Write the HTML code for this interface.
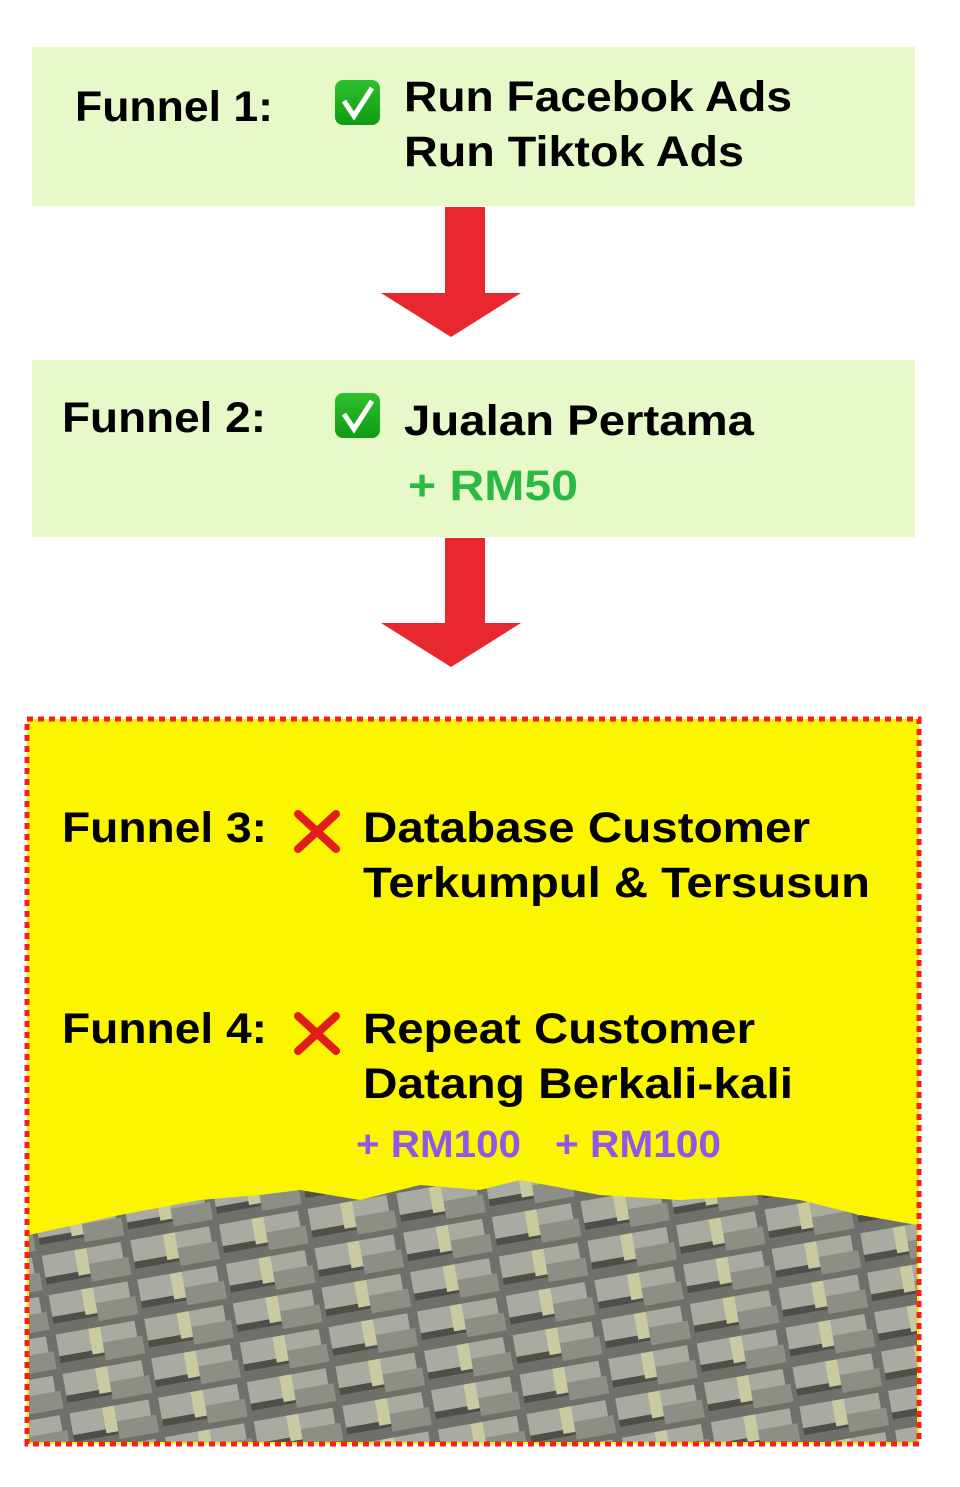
<!DOCTYPE html>
<html><head><meta charset="utf-8"><style>
html,body{margin:0;padding:0;background:#fff;}
svg{display:block;}
text{font-family:"Liberation Sans",sans-serif;font-weight:bold;}
</style></head><body>
<svg width="960" height="1487" viewBox="0 0 960 1487" xmlns="http://www.w3.org/2000/svg">
<defs>
<linearGradient id="g" x1="0" y1="0" x2="0" y2="1"><stop offset="0" stop-color="#2fc02f"/><stop offset="1" stop-color="#119a11"/></linearGradient>
<pattern id="cash" width="90" height="40" patternUnits="userSpaceOnUse" patternTransform="rotate(-10)">
<rect width="90" height="40" fill="#6f706a"/>
<rect x="3" y="4" width="80" height="26" fill="#a9aba2"/>
<rect x="3" y="26" width="80" height="7" fill="#4e4f49"/>
<rect x="36" y="4" width="12" height="26" fill="#c9caa0"/>
<rect x="48" y="20" width="40" height="18" fill="#8d8f87"/>
</pattern>
</defs>
<rect x="32" y="47" width="883" height="159" fill="#e8f9c9"/>
<text x="75" y="121" font-size="43" fill="#000" textLength="198" lengthAdjust="spacingAndGlyphs">Funnel 1:</text>
<rect x="335" y="80" width="45" height="45" rx="8" fill="url(#g)"/>
<path d="M344 101 L354 116 L372 88" stroke="#fff" stroke-width="5" fill="none"/>
<text x="404" y="111" font-size="43" fill="#000" textLength="388" lengthAdjust="spacingAndGlyphs">Run Facebok Ads</text>
<text x="404" y="166" font-size="43" fill="#000" textLength="340" lengthAdjust="spacingAndGlyphs">Run Tiktok Ads</text>
<polygon points="445,207 485,207 485,293 521,293 451,337 381,293 445,293" fill="#e8282e"/>
<rect x="32" y="360" width="883" height="177" fill="#e8f9c9"/>
<text x="62" y="432" font-size="43" fill="#000" textLength="204" lengthAdjust="spacingAndGlyphs">Funnel 2:</text>
<rect x="335" y="393" width="45" height="45" rx="8" fill="url(#g)"/>
<path d="M344 414 L354 429 L372 401" stroke="#fff" stroke-width="5" fill="none"/>
<text x="404" y="435" font-size="43" fill="#000" textLength="350" lengthAdjust="spacingAndGlyphs">Jualan Pertama</text>
<text x="408" y="500" font-size="43" fill="#2cb845" textLength="170" lengthAdjust="spacingAndGlyphs">+ RM50</text>
<polygon points="445,538 485,538 485,623 521,623 451,667 381,623 445,623" fill="#e8282e"/>
<rect x="27" y="719" width="892" height="725" fill="#fbf500"/>
<polygon points="29,1235 120,1215 200,1200 260,1195 300,1190 360,1200 420,1185 480,1190 520,1180 600,1195 680,1200 760,1195 800,1200 860,1215 917,1225 917,1442 29,1442" fill="url(#cash)"/>
<rect x="27" y="719" width="892" height="725" fill="none" stroke="#ff1a1a" stroke-width="5" stroke-dasharray="6,5"/>
<text x="62" y="842" font-size="43" fill="#000" textLength="205" lengthAdjust="spacingAndGlyphs">Funnel 3:</text>
<path d="M298 814 L336 849 M336 814 L298 849" stroke="#e21b1b" stroke-width="8" stroke-linecap="round"/>
<text x="363" y="842" font-size="43" fill="#000" textLength="447" lengthAdjust="spacingAndGlyphs">Database Customer</text>
<text x="363" y="897" font-size="43" fill="#000" textLength="507" lengthAdjust="spacingAndGlyphs">Terkumpul &amp; Tersusun</text>
<text x="62" y="1043" font-size="43" fill="#000" textLength="205" lengthAdjust="spacingAndGlyphs">Funnel 4:</text>
<path d="M298 1016 L336 1051 M336 1016 L298 1051" stroke="#e21b1b" stroke-width="8" stroke-linecap="round"/>
<text x="363" y="1043" font-size="43" fill="#000" textLength="392" lengthAdjust="spacingAndGlyphs">Repeat Customer</text>
<text x="363" y="1098" font-size="43" fill="#000" textLength="430" lengthAdjust="spacingAndGlyphs">Datang Berkali-kali</text>
<text x="356" y="1157" font-size="38" fill="#8f58e8" textLength="165" lengthAdjust="spacingAndGlyphs">+ RM100</text>
<text x="555" y="1157" font-size="38" fill="#8f58e8" textLength="166" lengthAdjust="spacingAndGlyphs">+ RM100</text>
</svg>
</body></html>
